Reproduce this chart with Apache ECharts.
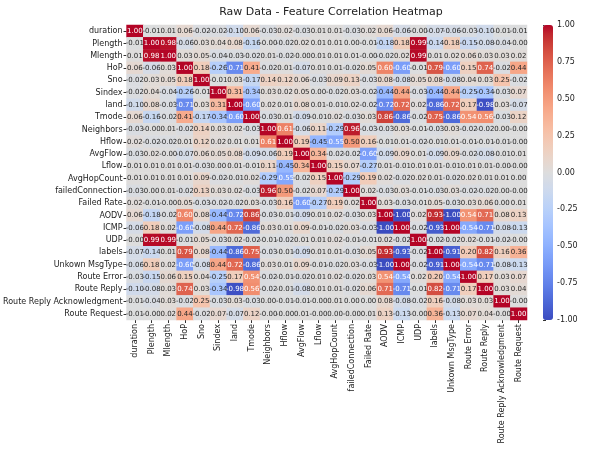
<!DOCTYPE html>
<html>
<head>
<meta charset="utf-8">
<script src="https://cdn.jsdelivr.net/npm/echarts@6/dist/echarts.min.js"></script>
<style>
  html, body { margin: 0; padding: 0; background: #ffffff; }
  #chart { width: 602px; height: 459px; }
</style>
</head>
<body>
<div id="chart"></div>
<script>
// Feature names (rows top to bottom, columns left to right)
const features = ['duration', 'Plength', 'Mlength', 'HoP', 'Sno', 'Sindex', 'land', 'Tmode',
  'Neighbors', 'Hflow', 'AvgFlow', 'Lflow', 'AvgHopCount', 'failedConnection', 'Failed Rate',
  'AODV', 'ICMP', 'UDP', 'labels', 'Unkown MsgType', 'Route Error', 'Route Reply',
  'Route Reply Acknowledgment', 'Route Request'];

// Upper triangle of the correlation matrix: each row lists the values to the right of the diagonal
const rDuration = [-0.01, 0.01, 0.06, -0.02, -0.02, -0.10, 0.06, -0.03, 0.02, -0.03, 0.01, 0.01, -0.03, 0.02, 0.06, -0.06, -0.00, -0.07, -0.06, -0.03, -0.10, -0.01, -0.01];
const rPlength = [0.98, -0.06, 0.03, 0.04, 0.08, -0.16, -0.00, -0.02, 0.02, 0.01, 0.01, 0.00, -0.01, -0.18, 0.18, 0.99, -0.14, 0.18, -0.15, -0.08, -0.04, -0.00];
const rMlength = [0.03, 0.05, -0.04, -0.03, -0.02, 0.01, -0.02, -0.00, 0.01, 0.01, 0.01, -0.00, -0.02, 0.02, 0.99, 0.01, 0.02, 0.06, 0.03, 0.03, 0.02];
const rHoP = [0.18, -0.26, -0.71, 0.41, -0.02, 0.01, -0.07, 0.01, 0.01, -0.02, 0.05, 0.60, -0.60, -0.01, 0.79, -0.60, 0.15, 0.74, -0.02, 0.44];
const rSno = [-0.01, 0.03, -0.17, 0.14, 0.12, 0.06, -0.03, 0.09, 0.13, -0.03, 0.08, -0.08, 0.05, 0.08, -0.08, 0.04, 0.03, 0.25, -0.02];
const rSindex = [0.31, -0.34, 0.03, 0.02, 0.05, 0.00, -0.02, 0.03, -0.02, -0.44, 0.44, -0.03, -0.44, 0.44, -0.25, -0.34, -0.03, 0.07];
const rLand = [-0.60, 0.02, 0.01, 0.08, 0.01, -0.01, 0.02, -0.02, -0.72, 0.72, 0.02, -0.86, 0.72, 0.17, -0.98, 0.03, -0.07];
const rTmode = [-0.03, 0.01, -0.09, -0.01, 0.02, -0.03, 0.03, 0.86, -0.86, -0.02, 0.75, -0.86, 0.54, 0.56, -0.03, 0.12];
const rNeighbors = [0.61, -0.06, 0.11, -0.29, 0.96, -0.03, -0.03, 0.03, -0.01, -0.03, 0.03, -0.02, -0.02, 0.00, -0.00];
const rHflow = [0.19, -0.45, -0.55, 0.50, 0.16, -0.01, 0.01, -0.02, -0.01, 0.01, -0.01, -0.01, -0.01, -0.00];
const rAvgFlow = [0.34, -0.02, -0.02, -0.60, -0.09, 0.09, 0.01, -0.09, 0.09, -0.02, -0.08, -0.01, 0.01];
const rLflow = [0.15, 0.07, -0.27, 0.01, -0.01, 0.01, 0.01, -0.01, 0.01, 0.01, -0.00, -0.00];
const rAvgHopCount = [-0.29, 0.19, 0.02, -0.02, 0.02, 0.01, -0.02, 0.02, 0.01, 0.01, 0.00];
const rFailedConnection = [0.02, -0.03, 0.03, -0.01, -0.03, 0.03, -0.02, -0.02, 0.00, -0.00];
const rFailedRate = [0.03, -0.03, -0.01, 0.05, -0.03, 0.03, 0.06, 0.00, 0.01];
const rAODV = [-1.00, 0.02, 0.93, -1.00, 0.54, 0.71, 0.08, 0.13];
const rICMP = [-0.02, -0.93, 1.00, -0.54, -0.71, -0.08, -0.13];
const rUDP = [-0.02, -0.02, 0.02, -0.01, -0.02, -0.00];
const rLabels = [-0.91, 0.20, 0.82, 0.16, 0.36];
const rUnknown = [-0.54, -0.71, -0.08, -0.13];
const rRouteError = [0.17, 0.03, 0.07];
const rRouteReply = [0.03, 0.04];
const rRouteReplyAck = [-0.00];
const rRouteRequest = [];

// Colorbar tick values
const colorbarTicks = [-1.00, -0.75, -0.50, -0.25, 0.00, 0.25, 0.50, 0.75, 1.00];

// coolwarm colour ramp, from -1 to 1
const coolwarm = [
  [59, 76, 192], [68, 90, 204], [77, 104, 215], [87, 117, 225], [98, 130, 234],
  [108, 142, 241], [119, 154, 247], [130, 165, 251], [141, 176, 254], [152, 185, 255],
  [163, 194, 255], [174, 201, 253], [184, 208, 249], [194, 213, 244], [204, 217, 238],
  [213, 219, 230], [221, 221, 221], [229, 216, 209], [236, 211, 197], [241, 204, 185],
  [245, 196, 173], [247, 187, 160], [247, 177, 148], [247, 166, 135], [244, 154, 123],
  [241, 141, 111], [236, 127, 99], [229, 112, 88], [222, 96, 77], [213, 80, 66],
  [203, 62, 56], [192, 40, 47], [180, 4, 38]
];

const upperRows = [rDuration, rPlength, rMlength, rHoP, rSno, rSindex, rLand, rTmode,
  rNeighbors, rHflow, rAvgFlow, rLflow, rAvgHopCount, rFailedConnection, rFailedRate,
  rAODV, rICMP, rUDP, rLabels, rUnknown, rRouteError, rRouteReply, rRouteReplyAck, rRouteRequest];

// Full symmetric matrix
const n = features.length;
const matrix = [];
for (let i = 0; i < n; i++) matrix.push(new Array(n).fill(0));
for (let i = 0; i < n; i++) {
  matrix[i][i] = 1.00;
  upperRows[i].forEach((v, k) => {
    const j = i + 1 + k;
    matrix[i][j] = v;
    matrix[j][i] = v;
  });
}

function rampColor(v) {
  const t = Math.max(0, Math.min(1, (v + 1) / 2)) * (coolwarm.length - 1);
  const i0 = Math.floor(t), i1 = Math.min(coolwarm.length - 1, i0 + 1), f = t - i0;
  return coolwarm[i0].map((c, k) => c + (coolwarm[i1][k] - c) * f);
}
function luminance(rgb) {
  const lin = rgb.map(c => {
    c /= 255;
    return c <= 0.03928 ? c / 12.92 : Math.pow((c + 0.055) / 1.055, 2.4);
  });
  return 0.2126 * lin[0] + 0.7152 * lin[1] + 0.0722 * lin[2];
}
function fmt(v) {
  if (Object.is(v, -0)) return '-0.00';
  return v.toFixed(2);
}

const cells = [];
for (let i = 0; i < n; i++) {
  for (let j = 0; j < n; j++) {
    const v = matrix[i][j];
    const textColor = luminance(rampColor(v)) < 0.408 ? '#ffffff' : '#262626';
    cells.push({ value: [j, i, v], label: { color: textColor } });
  }
}

const FONT = 'DejaVu Sans';
const chart = echarts.init(document.getElementById('chart'), null, { renderer: 'canvas' });
chart.setOption({
  backgroundColor: '#ffffff',
  animation: false,
  textStyle: { fontFamily: FONT },
  title: {
    text: 'Raw Data - Feature Correlation Heatmap',
    left: 326, top: 2, textAlign: 'center',
    textStyle: { fontFamily: FONT, fontSize: 11, fontWeight: 'normal', color: '#222' }
  },
  grid: [
    { left: 125, top: 25, width: 402, height: 295 },
    { left: 543, top: 25, width: 10, height: 295 }
  ],
  xAxis: [
    {
      type: 'category', data: features, gridIndex: 0, position: 'bottom',
      axisLine: { show: false },
      axisTick: { show: true, length: 3, lineStyle: { color: '#333' }, alignWithLabel: true },
      axisLabel: { rotate: 90, fontSize: 8, color: '#222', margin: 4, interval: 0, fontFamily: FONT },
      splitLine: { show: false }
    },
    { type: 'value', gridIndex: 1, show: false, min: 0, max: 1 }
  ],
  yAxis: [
    {
      type: 'category', data: features, gridIndex: 0, inverse: true,
      axisLine: { show: false },
      axisTick: { show: true, length: 3, lineStyle: { color: '#333' }, alignWithLabel: true },
      axisLabel: { fontSize: 8, color: '#222', margin: 4, interval: 0, fontFamily: FONT },
      splitLine: { show: false }
    },
    {
      type: 'value', gridIndex: 1, position: 'right', min: -1, max: 1, interval: 0.25,
      axisLine: { show: false },
      axisTick: { show: true, length: 3, lineStyle: { color: '#333' } },
      axisLabel: { fontSize: 8, color: '#222', margin: 4, fontFamily: FONT,
        formatter: v => colorbarTicks.some(t => Math.abs(t - v) < 1e-9) ? v.toFixed(2) : '' },
      splitLine: { show: false }
    }
  ],
  visualMap: {
    type: 'continuous', min: -1, max: 1, calculable: false, seriesIndex: 0,
    orient: 'vertical', left: 543, top: 25, itemWidth: 10, itemHeight: 295,
    padding: 0, showLabel: false, text: null, hoverLink: false,
    inRange: { color: coolwarm.map(c => 'rgb(' + c.join(',') + ')') }
  },
  series: [{
    type: 'heatmap', xAxisIndex: 0, yAxisIndex: 0,
    data: cells,
    itemStyle: { borderWidth: 0 },
    label: {
      show: true, fontSize: 7, fontFamily: FONT,
      formatter: p => fmt(matrix[p.value[1]][p.value[0]])
    },
    emphasis: { disabled: true }
  }]
});
</script>
</body>
</html>
